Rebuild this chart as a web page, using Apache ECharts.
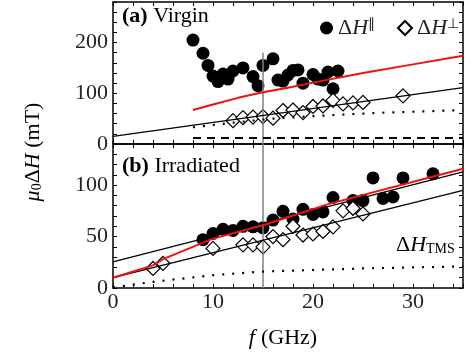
<!DOCTYPE html>
<html>
<head>
<meta charset="utf-8">
<script src="https://cdn.jsdelivr.net/npm/echarts@6/dist/echarts.min.js"></script>
<style>
  html, body { margin: 0; padding: 0; background: #fff; }
  #chart { width: 468px; height: 354px; }
</style>
</head>
<body>
<div id="chart"></div>
<script>
// (a) Virgin — ΔH∥ (filled circles)
const aParF = [8, 9, 9.5, 10, 10.5, 11, 11.5, 12, 13, 14, 14.5, 15, 16, 16.5, 17, 17.5, 18, 18.5, 19, 20, 20.5, 21, 21.5, 22, 22.5];
const aParV = [205, 179, 155, 134, 123, 138, 128, 144, 150, 133, 115, 155, 168, 126, 124, 136, 145, 146, 120, 137, 128, 126, 142, 109, 144];
// (a) Virgin — ΔH⊥ (open diamonds)
const aPerpF = [12, 13, 14, 15, 16, 17, 18, 19, 20, 21, 22, 23, 24, 25, 29];
const aPerpV = [46, 52, 53, 54, 51, 66, 67, 62, 74, 75, 86, 79, 81, 82, 95];
// (a) fit curves
const aRedF = [8, 10, 12.5, 15, 17.5, 20, 25, 30, 35];
const aRedV = [67, 78, 91, 102, 111, 121, 140, 157, 174];
const aFitF = [0, 35];
const aFitV = [15, 111];
const aDotF = [8, 12, 16, 20, 26, 35];
const aDotV = [33, 42, 50, 55, 61, 67];
const aDashF = [8, 35];
const aDashV = [12, 12];

// (b) Irradiated — ΔH∥
const bParF = [9, 10, 11, 12, 13, 14, 15, 16, 17, 18, 19, 20, 21, 22, 24, 25, 26, 27, 28, 29, 32];
const bParV = [47, 53, 57, 56, 60, 59.5, 58.5, 66, 74.5, 67, 76.5, 71.5, 74, 88, 85, 85, 107, 87, 88.5, 107, 111];
// (b) Irradiated — ΔH⊥
const bPerpF = [4, 5, 10, 13, 14, 15, 16, 17, 18, 19, 20, 21, 22, 23, 24, 25];
const bPerpV = [19, 24, 38.5, 42, 42, 40, 50, 47, 60, 51.5, 52.5, 55, 59.5, 75, 77.5, 72];
// (b) fit curves
const bRedF = [0, 4, 5, 10, 15, 21.7, 35];
const bRedV = [10, 22, 28, 48, 61, 82, 116];
const bFitUpF = [0, 35];
const bFitUpV = [25.5, 113];
const bFitLoF = [0, 35];
const bFitLoV = [10, 95];
const bTmsF = [0, 4, 10, 15, 25, 35];
const bTmsV = [0.5, 6, 12.5, 16, 19, 21];

// marker frequency
const markF = 15;
const aMarkTop = 180;
const bMarkTop = 140;

const xTicks = [0, 10, 20, 30];
const aTicks = [0, 100, 200];
const bTicks = [0, 50, 100];

const pts = (xs, ys) => xs.map((x, i) => [x, ys[i]]);

const font = "Liberation Serif";
const ink = "#222";
const red = "#f01010";

const tickLine = { color: "#000", width: 1 };

function xAx(gridIndex, position, labels) {
  return {
    type: "value", gridIndex, position, min: 0, max: 35, interval: 2,
    axisLine: { onZero: false, lineStyle: { color: "#000", width: 1.5 } },
    axisTick: { inside: true, length: 4, lineStyle: tickLine },
    axisLabel: {
      show: labels, color: ink, fontFamily: font, fontSize: 22, margin: 3,
      formatter: (v) => (xTicks.includes(v) ? String(v) : ""),
    },
    splitLine: { show: false },
  };
}

function yAx(gridIndex, position, max, step, ticks) {
  return {
    type: "value", gridIndex, position, min: 0, max, interval: step,
    axisLine: { onZero: false, lineStyle: { color: "#000", width: 1.5 } },
    axisTick: { inside: true, length: 4, lineStyle: tickLine },
    axisLabel: {
      show: position === "left", color: ink, fontFamily: font, fontSize: 22, margin: 5,
      formatter: (v) => (ticks.includes(v) ? String(v) : ""),
    },
    splitLine: { show: false },
  };
}

const circle = (name, data, ax) => ({
  name, type: "scatter", data, symbol: "circle", symbolSize: 13,
  xAxisIndex: ax, yAxisIndex: ax,
  itemStyle: { color: "#000", opacity: 1 }, z: 2,
});
const diamond = (name, data, ax) => ({
  name, type: "scatter", data, symbol: "diamond", symbolSize: 14,
  xAxisIndex: ax, yAxisIndex: ax,
  itemStyle: { color: "#fff", borderColor: "#000", borderWidth: 1.2, opacity: 1 }, z: 2,
});
const curve = (data, ax, color, width, type) => ({
  type: "line", data, xAxisIndex: ax, yAxisIndex: ax,
  showSymbol: false, symbol: "none", silent: true, z: 3,
  lineStyle: { color, width, type: type || "solid" },
});

const rich = {
  u: { fontFamily: font, fontSize: 22, color: ink },
  i: { fontFamily: font, fontSize: 22, color: ink, fontStyle: "italic" },
  f: { fontFamily: font, fontSize: 22, color: ink, fontStyle: "italic", padding: [0, 6, 0, 0] },
  b: { fontFamily: font, fontSize: 22, color: ink, fontWeight: "bold" },
  sup: { fontFamily: font, fontSize: 14, color: ink, verticalAlign: "top", lineHeight: 14 },
  sub: { fontFamily: font, fontSize: 14, color: ink, verticalAlign: "bottom", lineHeight: 14 },
};

const chart = echarts.init(document.getElementById("chart"), null, { renderer: "canvas" });

chart.setOption({
  animation: false,
  backgroundColor: "#fff",
  grid: [
    { left: 113, right: 5, top: 2, height: 142 },
    { left: 113, right: 5, top: 144, height: 144 },
  ],
  xAxis: [xAx(0, "bottom", false), xAx(0, "top", false), xAx(1, "bottom", true), xAx(1, "top", false)],
  yAxis: [
    yAx(0, "left", 280, 20, aTicks), yAx(0, "right", 280, 20, aTicks),
    yAx(1, "left", 140, 10, bTicks), yAx(1, "right", 140, 10, bTicks),
  ],
  legend: [
    {
      left: 315, top: 12, itemWidth: 13, itemHeight: 13, selectedMode: false,
      data: [{ name: "par", icon: "circle" }],
      formatter: () => "{u|Δ}{i|H}{sup|∥}",
      textStyle: { rich },
    },
    {
      left: 392, top: 12, itemWidth: 14, itemHeight: 14, selectedMode: false,
      data: [{ name: "perp", icon: "diamond" }],
      formatter: () => "{u|Δ}{i|H}{sup|⊥}",
      textStyle: { rich },
    },
  ],
  graphic: [
    {
      type: "text", left: 122, top: 5,
      style: { text: "{b|(a)}{u| Virgin}", rich },
    },
    {
      type: "text", left: 122, top: 155,
      style: { text: "{b|(b)}{u| Irradiated}", rich },
    },
    {
      type: "text", left: 396, top: 234,
      style: { text: "{u|Δ}{i|H}{sub|TMS}", rich },
    },
    {
      type: "text", x: 33, y: 152, rotation: Math.PI / 2,
      style: { text: "{i|μ}{sub|0}{u|Δ}{i|H}{u| (mT)}", rich, align: "center", verticalAlign: "middle" },
    },
    {
      type: "text", x: 283, y: 338,
      style: { text: "{f|f}{u|(GHz)}", rich, align: "center", verticalAlign: "middle" },
    },
  ],
  series: [
    circle("par", pts(aParF, aParV), 0),
    diamond("perp", pts(aPerpF, aPerpV), 0),
    curve([[markF, 0], [markF, aMarkTop]], 0, "#808080", 1.5),
    curve(pts(aDashF, aDashV), 0, "#000", 2, [8, 6]),
    curve(pts(aDotF, aDotV), 0, "#000", 2.2, [2, 8]),
    curve(pts(aFitF, aFitV), 0, "#000", 1.3),
    curve(pts(aRedF, aRedV), 0, red, 2),

    circle("par", pts(bParF, bParV), 2),
    diamond("perp", pts(bPerpF, bPerpV), 2),
    curve([[markF, 0], [markF, bMarkTop]], 2, "#808080", 1.5),
    curve(pts(bTmsF, bTmsV), 2, "#000", 2.2, [2, 8]),
    curve(pts(bFitUpF, bFitUpV), 2, "#000", 1.3),
    curve(pts(bFitLoF, bFitLoV), 2, "#000", 1.3),
    curve(pts(bRedF, bRedV), 2, red, 2),
  ],
});
</script>
</body>
</html>
